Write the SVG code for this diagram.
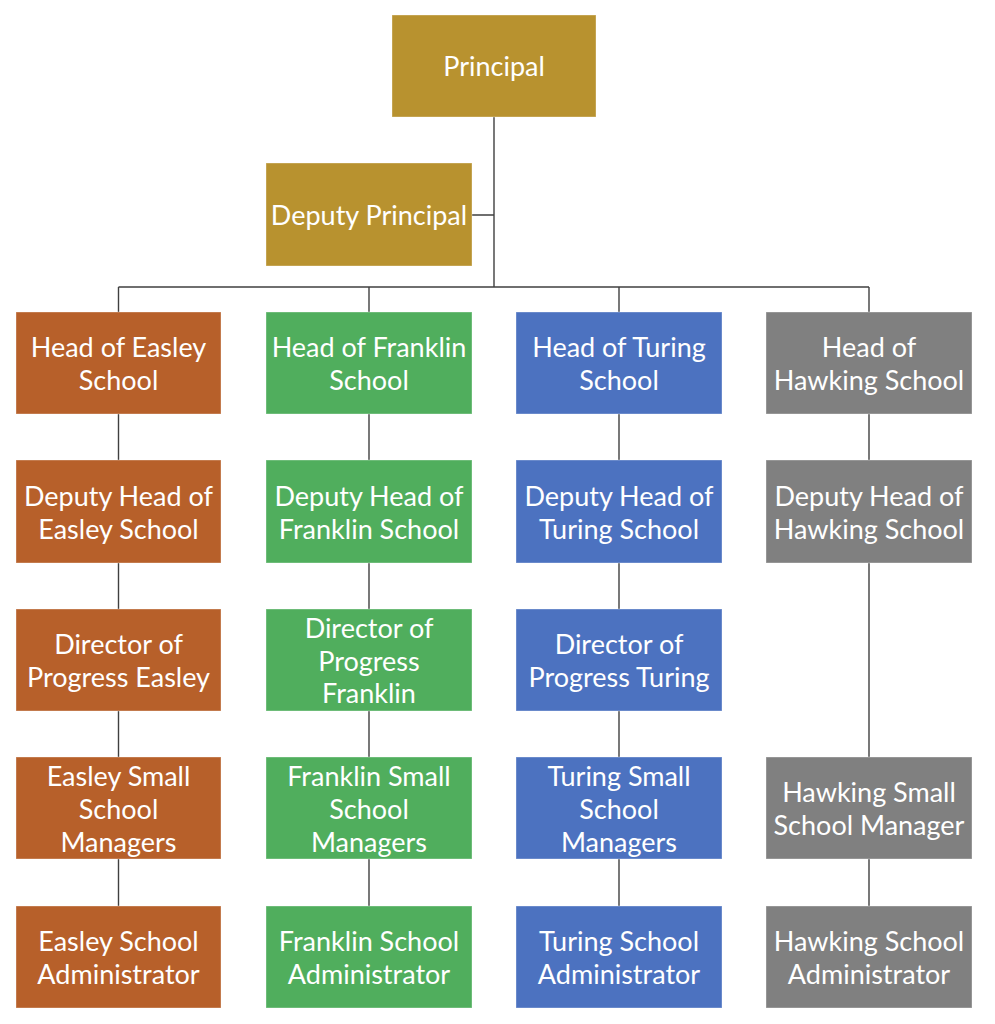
<svg xmlns="http://www.w3.org/2000/svg" width="995" height="1024" viewBox="0 0 995 1024">
<style>
.bx{stroke:#ffffff;stroke-opacity:0.35;stroke-width:1}
.gold{fill:#B8922F}.or{fill:#B7602A}.gr{fill:#50AE5D}.bl{fill:#4C72C0}.gy{fill:#808080}
text{font-family:Lato,"Open Sans","Liberation Sans",sans-serif;font-size:27px;fill:#ffffff;text-anchor:middle}
.ln{stroke:#404040;stroke-width:1.4;fill:none}
</style>
<rect width="995" height="1024" fill="#ffffff"/>
<g id="connectors">
<path class="ln" d="M494 117V287M472 215H494M118.5 287H869M118.5 287V312M369 287V312M619 287V312M869 287V312"/>
<path class="ln" d="M118.5 414V460M118.5 563V609M118.5 711V757M118.5 859V906"/>
<path class="ln" d="M369 414V460M369 563V609M369 711V757M369 859V906"/>
<path class="ln" d="M619 414V460M619 563V609M619 711V757M619 859V906"/>
<path class="ln" d="M869 414V460M869 563V757M869 859V906"/>
</g>
<g id="principal"><rect class="bx gold" x="392" y="15" width="204" height="102"/><text x="494" y="76">Principal</text></g>
<g id="deputy-principal"><rect class="bx gold" x="266" y="163" width="206" height="103"/><text x="369" y="225">Deputy Principal</text></g>

<g id="head-easley"><rect class="bx or" x="16" y="312" width="205" height="102"/><text x="118.5" y="357">Head of Easley</text><text x="118.5" y="390">School</text></g>
<g id="deputy-easley"><rect class="bx or" x="16" y="460" width="205" height="103"/><text x="118.5" y="506">Deputy Head of</text><text x="118.5" y="539">Easley School</text></g>
<g id="director-easley"><rect class="bx or" x="16" y="609" width="205" height="102"/><text x="118.5" y="654">Director of</text><text x="118.5" y="687">Progress Easley</text></g>
<g id="managers-easley"><rect class="bx or" x="16" y="757" width="205" height="102"/><text x="118.5" y="786">Easley Small</text><text x="118.5" y="819">School</text><text x="118.5" y="852">Managers</text></g>
<g id="admin-easley"><rect class="bx or" x="16" y="906" width="205" height="102"/><text x="118.5" y="951">Easley School</text><text x="118.5" y="984">Administrator</text></g>

<g id="head-franklin"><rect class="bx gr" x="266" y="312" width="206" height="102"/><text x="369" y="357">Head of Franklin</text><text x="369" y="390">School</text></g>
<g id="deputy-franklin"><rect class="bx gr" x="266" y="460" width="206" height="103"/><text x="369" y="506">Deputy Head of</text><text x="369" y="539">Franklin School</text></g>
<g id="director-franklin"><rect class="bx gr" x="266" y="609" width="206" height="102"/><text x="369" y="638">Director of</text><text x="369" y="671">Progress</text><text x="369" y="703">Franklin</text></g>
<g id="managers-franklin"><rect class="bx gr" x="266" y="757" width="206" height="102"/><text x="369" y="786">Franklin Small</text><text x="369" y="819">School</text><text x="369" y="852">Managers</text></g>
<g id="admin-franklin"><rect class="bx gr" x="266" y="906" width="206" height="102"/><text x="369" y="951">Franklin School</text><text x="369" y="984">Administrator</text></g>

<g id="head-turing"><rect class="bx bl" x="516" y="312" width="206" height="102"/><text x="619" y="357">Head of Turing</text><text x="619" y="390">School</text></g>
<g id="deputy-turing"><rect class="bx bl" x="516" y="460" width="206" height="103"/><text x="619" y="506">Deputy Head of</text><text x="619" y="539">Turing School</text></g>
<g id="director-turing"><rect class="bx bl" x="516" y="609" width="206" height="102"/><text x="619" y="654">Director of</text><text x="619" y="687">Progress Turing</text></g>
<g id="managers-turing"><rect class="bx bl" x="516" y="757" width="206" height="102"/><text x="619" y="786">Turing Small</text><text x="619" y="819">School</text><text x="619" y="852">Managers</text></g>
<g id="admin-turing"><rect class="bx bl" x="516" y="906" width="206" height="102"/><text x="619" y="951">Turing School</text><text x="619" y="984">Administrator</text></g>

<g id="head-hawking"><rect class="bx gy" x="766" y="312" width="206" height="102"/><text x="869" y="357">Head of</text><text x="869" y="390">Hawking School</text></g>
<g id="deputy-hawking"><rect class="bx gy" x="766" y="460" width="206" height="103"/><text x="869" y="506">Deputy Head of</text><text x="869" y="539">Hawking School</text></g>
<g id="manager-hawking"><rect class="bx gy" x="766" y="757" width="206" height="102"/><text x="869" y="802">Hawking Small</text><text x="869" y="835">School Manager</text></g>
<g id="admin-hawking"><rect class="bx gy" x="766" y="906" width="206" height="102"/><text x="869" y="951">Hawking School</text><text x="869" y="984">Administrator</text></g>
</svg>
